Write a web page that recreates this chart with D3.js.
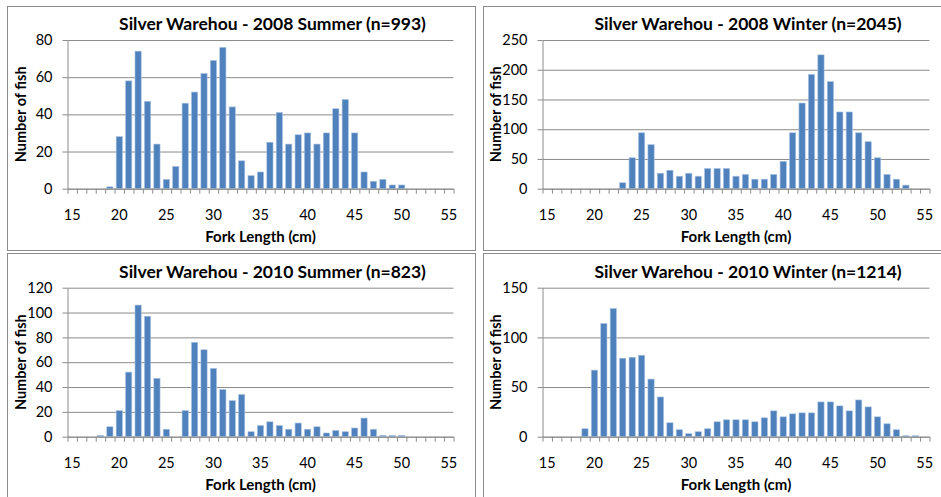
<html>
<head>
<meta charset="utf-8">
<title>Silver Warehou length frequencies</title>
<style>
  body { margin: 0; background: #fff; }
  text { font-family: Lato, "Open Sans", sans-serif; fill: #000; }
</style>
<script src="https://d3js.org/d3.v7.min.js"></script>
</head>
<body>
<svg width="941" height="497"></svg>
<script>
// fork length classes (cm)
var lengths = [15,16,17,18,19,20,21,22,23,24,25,26,27,28,29,30,31,32,33,34,35,
               36,37,38,39,40,41,42,43,44,45,46,47,48,49,50,51,52,53,54,55];
var xLabels = [15,20,25,30,35,40,45,50,55];

var titles = ["Silver Warehou - 2008 Summer (n=993)",
              "Silver Warehou - 2008 Winter (n=2045)",
              "Silver Warehou - 2010 Summer (n=823)",
              "Silver Warehou - 2010 Winter (n=1214)"];

// number of fish per length class, 15..55
var summer2008 = [0,0,0,0,1,28,58,74,47,24,5,12,46,52,62,69,76,44,15,7,9,
                  25,41,24,29,30,24,30,43,48,30,9,4,5,2,2,0,0,0,0,0];
var winter2008 = [0,0,0,0,0,0,0,0,10,52,94,74,26,31,21,26,21,34,34,34,21,
                  24,16,16,24,46,94,144,192,225,180,129,129,94,79,52,24,16,6,0,0];
var summer2010 = [0,0,0,1,8,21,52,106,97,47,6,0,21,76,70,55,38,29,34,4,9,
                  12,9,6,11,6,8,3,5,4,7,15,6,1,1,1,0,0,0,0,0];
var winter2010 = [0,0,0,0,8,67,114,129,79,80,82,58,40,14,7,3,5,8,15,17,17,
                  17,15,19,26,20,23,24,24,35,35,31,26,37,30,20,13,7,1,1,0];

var yTicks2008S = [0,20,40,60,80];
var yTicks2008W = [0,50,100,150,200,250];
var yTicks2010S = [0,20,40,60,80,100,120];
var yTicks2010W = [0,50,100,150];

var svg = d3.select("svg");
var gridColor = "#8c8c8c";

var panels = [
  {title: titles[0], counts: summer2008, ticks: yTicks2008S, box: [7.5, 6.5, 475.5, 250.5],  plot: [67.5, 40, 386, 148.7]},
  {title: titles[1], counts: winter2008, ticks: yTicks2008W, box: [483.5, 6.5, 960, 250.5],  plot: [542.5, 40, 387, 148.7]},
  {title: titles[2], counts: summer2010, ticks: yTicks2010S, box: [7.5, 253.5, 475.5, 520],  plot: [67.5, 287.7, 386, 149]},
  {title: titles[3], counts: winter2010, ticks: yTicks2010W, box: [483.5, 253.5, 960, 520],  plot: [542.5, 287.7, 387, 149]}
];

panels.forEach(function(p){
  var b = p.box;
  svg.append("rect")
     .attr("x", b[0]).attr("y", b[1])
     .attr("width", b[2]-b[0]).attr("height", b[3]-b[1])
     .attr("fill", "none").attr("stroke", gridColor);

  var x0 = p.plot[0], y0 = p.plot[1], w = p.plot[2], h = p.plot[3];
  var g = svg.append("g");

  var xScale = d3.scaleBand()
      .domain(lengths)
      .range([x0, x0+w])
      .paddingInner(0.34)
      .paddingOuter(0.17);
  var xEdge = d3.scaleLinear()
      .domain([lengths[0]-0.5, lengths[lengths.length-1]+0.5])
      .range([x0, x0+w]);
  var yScale = d3.scaleLinear()
      .domain([0, d3.max(p.ticks)])
      .range([y0+h, y0]);

  // gridlines
  g.append("g")
    .attr("transform", "translate(" + x0 + ",0)")
    .call(d3.axisLeft(yScale).tickValues(p.ticks).tickSize(-w).tickFormat(""))
    .call(function(s){
      s.select(".domain").remove();
      s.selectAll("line").attr("stroke", gridColor);
    });

  // bars
  var data = lengths.map(function(l, i){ return {len: l, n: p.counts[i]}; });
  g.append("g").selectAll("rect")
    .data(data.filter(function(d){ return d.n > 0; }))
    .enter().append("rect")
      .attr("x", function(d){ return xScale(d.len); })
      .attr("y", function(d){ return yScale(d.n); })
      .attr("width", xScale.bandwidth())
      .attr("height", function(d){ return yScale(0) - yScale(d.n); })
      .attr("fill", "#4f81bd")
      .attr("stroke", "#a9c1e0")
      .attr("stroke-width", 0.6);

  // y axis
  g.append("g")
    .attr("transform", "translate(" + x0 + ",0)")
    .call(d3.axisLeft(yScale).tickValues(p.ticks).tickSize(5).tickPadding(10).tickSizeOuter(0))
    .call(function(s){
      s.select(".domain").attr("stroke", gridColor);
      s.selectAll("line").attr("stroke", gridColor);
      s.selectAll("text").style("font-size", "14.5px").attr("fill", "#000");
    });

  // x axis: boundary ticks
  g.append("g")
    .attr("transform", "translate(0," + (y0+h) + ")")
    .call(d3.axisBottom(xEdge).tickValues(d3.range(lengths.length+1).map(function(i){ return lengths[0]-0.5+i; }))
          .tickSize(5).tickFormat("").tickSizeOuter(0))
    .call(function(s){
      s.select(".domain").attr("stroke", gridColor);
      s.selectAll("line").attr("stroke", gridColor);
    });
  // x axis: labels
  g.append("g")
    .attr("transform", "translate(0," + (y0+h) + ")")
    .call(d3.axisBottom(xScale).tickValues(xLabels).tickSize(0).tickPadding(21))
    .call(function(s){
      s.select(".domain").remove();
      s.selectAll("text").style("font-size", "14.5px").attr("fill", "#000");
    });

  // titles
  g.append("text")
    .attr("x", x0 + w/2 + 12)
    .attr("y", y0 - 10)
    .attr("text-anchor", "middle")
    .style("font-size", "17.5px").style("font-weight", "bold")
    .text(p.title);

  g.append("text")
    .attr("x", x0 + w/2)
    .attr("y", y0 + h + 53)
    .attr("text-anchor", "middle")
    .style("font-size", "15px").style("font-weight", "bold")
    .text("Fork Length (cm)");

  g.append("text")
    .attr("transform", "translate(" + (x0 - 42) + "," + (y0 + h/2) + ") rotate(-90)")
    .attr("text-anchor", "middle")
    .style("font-size", "14.5px").style("font-weight", "bold")
    .text("Number of fish");
});
</script>
</body>
</html>
